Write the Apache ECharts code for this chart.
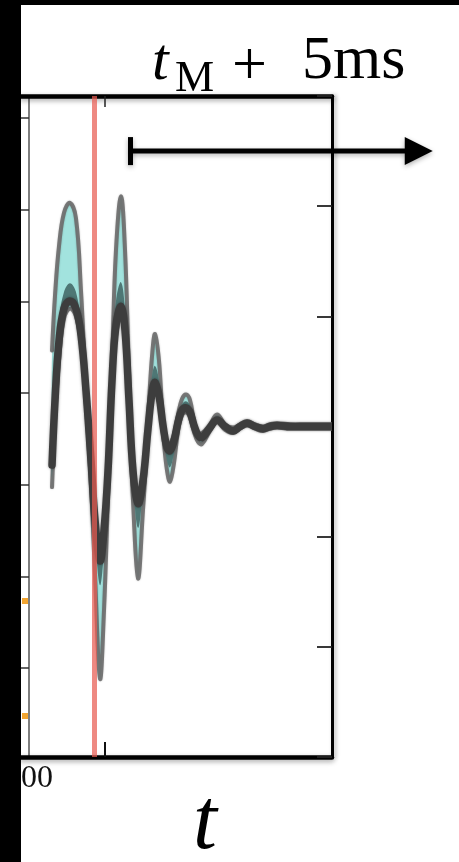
<!DOCTYPE html>
<html>
<head>
<meta charset="utf-8">
<script src="https://cdn.jsdelivr.net/npm/echarts@6/dist/echarts.min.js"></script>
<style>
  html, body { margin: 0; padding: 0; background: #000; }
  #chart { width: 459px; height: 862px; }
</style>
</head>
<body>
<div id="chart"></div>
<script>
// ---- data (time in ms relative to t_M, strain in arbitrary units) ----
const tMs = [-5.75,-5.34,-4.79,-4.11,-3.29,-2.47,-1.78,-1.10,-0.41,0.14,0.82,1.37,1.92,2.47,3.01,3.70,4.25,4.79,5.34,6.03,6.71,7.40,7.95,8.36,8.90,9.45,10.00,10.41,10.96,11.51,12.05,12.60,13.15,13.70,14.25,14.79,15.89,16.85,17.95,19.04,20.00,20.96,22.05,23.15,24.11,25.07,26.85,28.90,32.60];
const medianV = [-0.35,0.24,0.78,1.07,1.14,1.07,0.83,0.33,-0.31,-0.85,-1.22,-0.94,-0.40,0.42,0.92,1.09,0.87,0.24,-0.40,-0.70,-0.49,-0.02,0.31,0.40,0.28,0.01,-0.19,-0.22,-0.13,0.04,0.15,0.17,0.13,0.01,-0.08,-0.10,-0.01,0.06,0.00,-0.04,0.00,0.03,0.00,-0.02,0.00,0.01,0.00,0.00,0.00];
const outerUpper = [0.69,1.19,1.64,1.94,2.03,1.89,1.23,0.37,-0.26,-0.78,-1.14,-0.87,-0.33,0.60,1.60,2.09,1.60,0.51,-0.33,-0.63,-0.42,0.10,0.64,0.84,0.60,0.07,-0.15,-0.16,-0.07,0.11,0.25,0.29,0.24,0.05,-0.05,-0.06,0.02,0.11,0.02,-0.01,0.02,0.05,0.02,0.00,0.02,0.03,0.02,0.02,0.02];
const outerLower = [-0.55,0.05,0.60,0.98,1.07,1.00,0.74,0.19,-0.54,-1.35,-2.29,-1.67,-0.63,0.33,0.82,1.00,0.78,0.16,-0.67,-1.38,-0.76,-0.09,0.25,0.34,0.22,-0.07,-0.40,-0.50,-0.33,-0.04,0.10,0.13,0.08,-0.05,-0.14,-0.16,-0.04,0.04,-0.03,-0.06,-0.02,0.01,-0.02,-0.04,-0.02,-0.01,-0.02,-0.02,-0.02];
const innerUpper = [-0.24,0.37,0.96,1.22,1.30,1.22,0.92,0.37,-0.29,-0.80,-1.17,-0.90,-0.36,0.51,1.14,1.31,1.05,0.33,-0.35,-0.65,-0.45,0.04,0.46,0.55,0.42,0.05,-0.16,-0.18,-0.09,0.08,0.20,0.23,0.19,0.04,-0.05,-0.07,0.01,0.09,0.01,-0.02,0.01,0.04,0.01,-0.01,0.00,0.01,0.00,0.00,0.00];
const innerLower = [-0.45,0.15,0.69,1.02,1.10,1.03,0.78,0.25,-0.40,-0.99,-1.44,-1.13,-0.47,0.37,0.85,1.04,0.82,0.20,-0.49,-0.92,-0.58,-0.05,0.27,0.36,0.25,-0.04,-0.31,-0.37,-0.24,-0.01,0.12,0.15,0.10,-0.03,-0.11,-0.13,-0.03,0.05,-0.02,-0.05,-0.01,0.02,-0.01,-0.03,-0.01,0.00,-0.01,0.00,0.00];

// axes
const tMin = -10, tMax = 32.6;
const xTickValues = [1.5];
const xLabelValues = [-7.8];
const xLabelTexts = ['00'];
const rightMin = -3, rightMax = 3, rightInterval = 1;
const leftMin = -0.97, leftMax = 6.24;
const leftTickValues = [0, 1, 2, 3, 4, 5, 6];
const orangeTickValues = [0.73, -0.52];
const mergerT = 0;          // t_M
const arrowStartT = 5;      // t_M + 5 ms
const arrowEndT = 46.4;
const arrowLevel = 2.5;

const SM = 0.4;
const shadow = { shadowColor: 'rgba(0,0,0,0.35)', shadowBlur: 5, shadowOffsetY: 2 };

function renderWave(params, api) {
  const toPx = arr => tMs.map((t, i) => api.coord([t, arr[i]]));
  const up = toPx(outerUpper), lo = toPx(outerLower);
  const iu = toPx(innerUpper), il = toPx(innerLower);
  const md = toPx(medianV);
  const edgeStyle = { stroke: 'rgba(110,110,110,0.92)', lineWidth: 4, fill: 'none', lineJoin: 'round', lineCap: 'round', shadowColor: 'rgba(0,0,0,0.25)', shadowBlur: 2 };
  return {
    type: 'group',
    children: [
      { type: 'polygon', shape: { points: up.concat(lo.slice().reverse()), smooth: SM }, style: { fill: '#a2e3de' } },
      { type: 'polyline', shape: { points: up, smooth: SM }, style: edgeStyle },
      { type: 'polyline', shape: { points: lo, smooth: SM }, style: edgeStyle },
      { type: 'polygon', shape: { points: iu.concat(il.slice().reverse()), smooth: SM }, style: { fill: '#4e7775' } },
      { type: 'polyline', shape: { points: md, smooth: SM }, style: { stroke: '#3d3d3d', lineWidth: 7.5, fill: 'none', lineJoin: 'round', lineCap: 'round', shadowColor: 'rgba(0,0,0,0.35)', shadowBlur: 3 } }
    ]
  };
}

const chart = echarts.init(document.getElementById('chart'), null, { renderer: 'canvas' });

const option = {
  backgroundColor: '#ffffff',
  animation: false,
  grid: { left: 21, right: 127, top: 96, bottom: 105, containLabel: false, outerBoundsMode: 'none' },
  xAxis: [
    {
      type: 'value', min: tMin, max: tMax, position: 'bottom',
      axisLine: { show: true, onZero: false, lineStyle: Object.assign({ color: '#000', width: 4.5 }, shadow) },
      axisTick: { show: true, inside: true, length: 15, customValues: xTickValues, lineStyle: { color: '#111', width: 2 } },
      axisLabel: {
        show: true, customValues: xLabelValues, margin: 6,
        formatter: v => xLabelTexts[xLabelValues.indexOf(v)] || '',
        color: '#111', fontSize: 32, fontFamily: 'Liberation Serif'
      },
      splitLine: { show: false },
      name: 't', nameLocation: 'middle', nameGap: 25, nameMoveOverlap: false,
      nameTextStyle: { fontFamily: 'Liberation Serif', fontStyle: 'italic', fontSize: 86, color: '#000', padding: [0, 0, 0, 57] }
    },
    {
      type: 'value', min: tMin, max: tMax, position: 'top',
      axisLine: { show: true, onZero: false, lineStyle: Object.assign({ color: '#000', width: 4.5 }, shadow) },
      axisTick: { show: true, inside: true, length: 11, customValues: xTickValues, lineStyle: { color: '#222', width: 1.5 } },
      axisLabel: { show: false },
      splitLine: { show: false }
    }
  ],
  yAxis: [
    {
      type: 'value', position: 'right', min: rightMin, max: rightMax, interval: rightInterval,
      axisLine: { show: true, onZero: false, lineStyle: { color: '#000', width: 3, shadowColor: 'rgba(0,0,0,0.3)', shadowBlur: 4, shadowOffsetX: 2 } },
      axisTick: { show: true, inside: true, length: 15, lineStyle: { color: '#222', width: 1.8 } },
      axisLabel: { show: false },
      splitLine: { show: false }
    },
    {
      type: 'value', position: 'left', min: leftMin, max: leftMax, offset: -8,
      axisLine: { show: true, onZero: false, lineStyle: { color: '#555', width: 1.5 } },
      axisTick: { show: true, inside: false, length: 8, customValues: leftTickValues, lineStyle: { color: '#333', width: 1.5 } },
      axisLabel: { show: false },
      splitLine: { show: false }
    },
    {
      type: 'value', position: 'left', min: leftMin, max: leftMax, offset: -7,
      axisLine: { show: false, onZero: false },
      axisTick: { show: true, inside: false, length: 6, customValues: orangeTickValues, lineStyle: { color: '#f2a531', width: 6 } },
      axisLabel: { show: false },
      splitLine: { show: false }
    }
  ],
  series: [
    {
      type: 'custom', name: 'waveform', coordinateSystem: 'cartesian2d', xAxisIndex: 0, yAxisIndex: 0,
      data: [[tMs[0], medianV[0]]], renderItem: renderWave, silent: true, z: 3, clip: true
    },
    {
      type: 'line', name: 'merger', data: [], z: 6, silent: true,
      markLine: {
        silent: true, symbol: ['none', 'none'], label: { show: false },
        lineStyle: { color: 'rgba(232,92,82,0.72)', width: 5, type: 'solid' },
        data: [{ xAxis: mergerT }]
      }
    }
  ]
};
chart.setOption(option);

// annotation arrow from t_M + 5 ms, placed through the axis scales
const ax = chart.convertToPixel({ xAxisIndex: 0 }, arrowStartT);
const axEnd = chart.convertToPixel({ xAxisIndex: 0 }, arrowEndT);
const ay = chart.convertToPixel({ yAxisIndex: 0 }, arrowLevel);
const headLen = 28, headHalf = 14;
const arrowShadow = { shadowColor: 'rgba(0,0,0,0.3)', shadowBlur: 5, shadowOffsetY: 2 };

chart.setOption({
  graphic: [
    { type: 'line', z: 50, shape: { x1: ax, y1: ay, x2: axEnd - headLen + 2, y2: ay }, style: Object.assign({ stroke: '#000', lineWidth: 5 }, arrowShadow) },
    { type: 'rect', z: 50, shape: { x: ax - 2.5, y: ay - headHalf, width: 5, height: headHalf * 2 }, style: Object.assign({ fill: '#000' }, arrowShadow) },
    { type: 'polygon', z: 50, shape: { points: [[axEnd - headLen, ay - headHalf], [axEnd, ay], [axEnd - headLen, ay + headHalf]] }, style: Object.assign({ fill: '#000' }, arrowShadow) },
    { type: 'text', z: 50, x: 152, y: 93, style: { text: 't', font: 'italic 60px "Liberation Serif"', fill: '#000', align: 'left', verticalAlign: 'bottom' } },
    { type: 'text', z: 50, x: 175, y: 101, style: { text: 'M', font: '44px "Liberation Serif"', fill: '#000', align: 'left', verticalAlign: 'bottom' } },
    { type: 'text', z: 50, x: 232, y: 99, style: { text: '+', font: '62px "Liberation Serif"', fill: '#000', align: 'left', verticalAlign: 'bottom' } },
    { type: 'text', z: 50, x: 302, y: 93, style: { text: '5ms', font: '62px "Liberation Serif"', fill: '#000', align: 'left', verticalAlign: 'bottom' } },
    { type: 'rect', z: 100, left: 0, top: 0, shape: { width: 21, height: 862 }, style: { fill: '#000' } },
    { type: 'rect', z: 100, left: 0, top: 0, shape: { width: 459, height: 5 }, style: { fill: '#000' } }
  ]
});
</script>
</body>
</html>
